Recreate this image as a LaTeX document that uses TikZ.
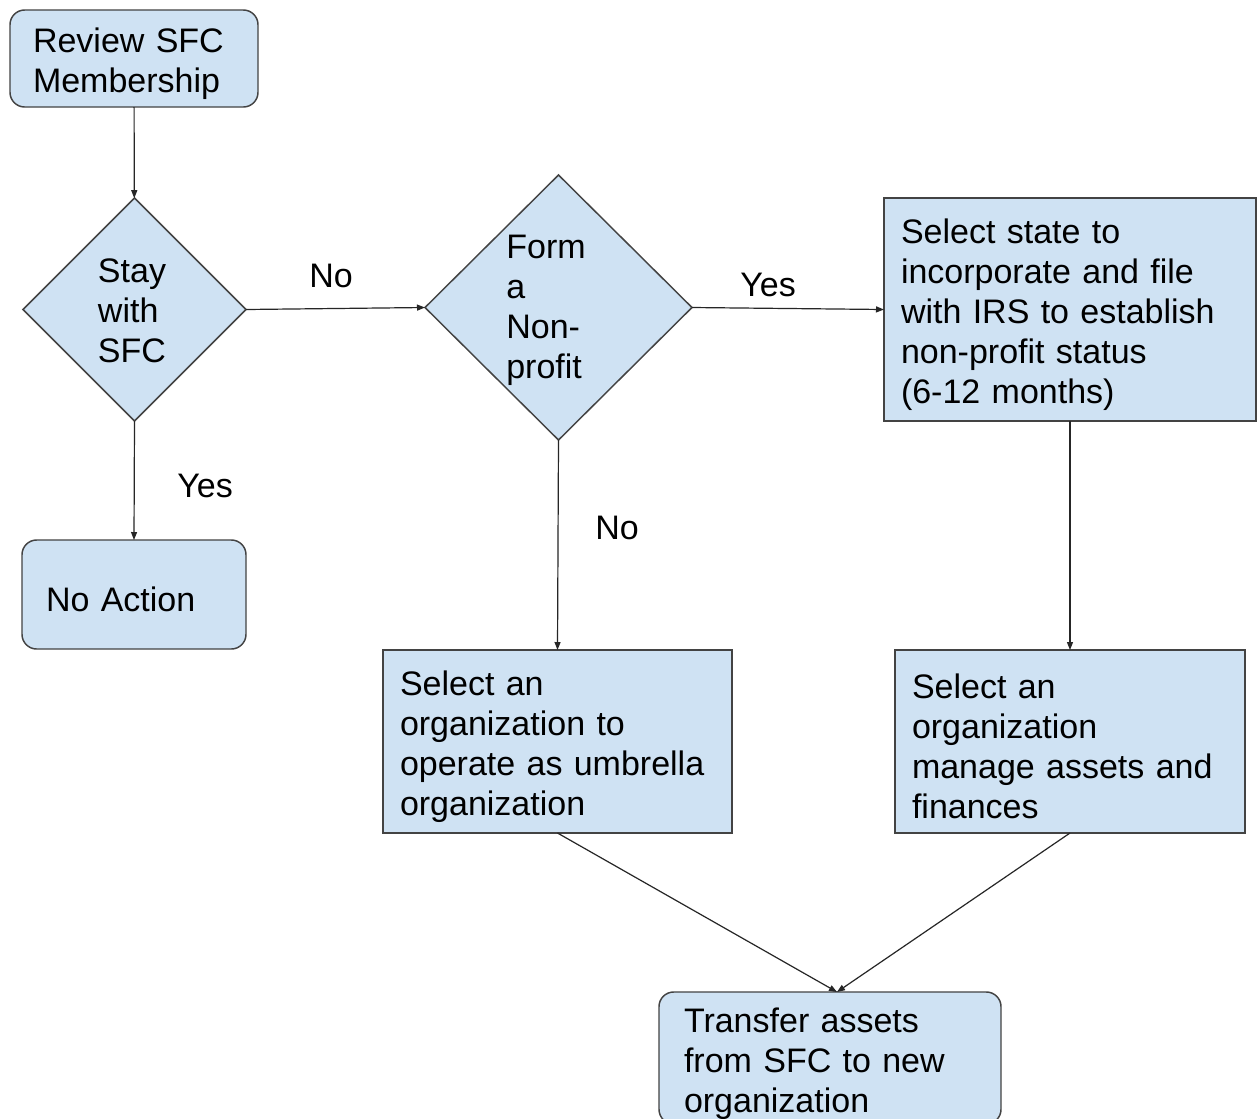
\documentclass[tikz,border=0pt]{standalone}
\usepackage{fontspec}
\setmainfont{Liberation Sans}
\usetikzlibrary{shapes.geometric,arrows.meta}
\definecolor{boxfill}{HTML}{CFE2F3}
\definecolor{boxline}{HTML}{434343}
\newcommand\myfstrut{\rule{0pt}{26.4pt}}
\begin{document}
\begin{tikzpicture}[x=0.75pt,y=-0.75pt,
  every node/.style={font=\fontsize{25.5pt}{30pt}\selectfont, text=black},
  shp/.style={draw=boxline, fill=boxfill, line width=1.1pt, outer sep=0pt},
  rbox/.style={shp, rounded corners=11pt, inner ysep=0pt, align=left, execute at begin node=\myfstrut},
  sbox/.style={shp, inner ysep=0pt, align=left, execute at begin node=\myfstrut},
  dia/.style={shp, diamond, inner sep=0pt},
  lbl/.style={inner sep=0pt},
  arr/.style={draw=black!85, line width=0.9pt, -{Triangle[length=6pt,width=4.5pt]}}
]
\clip (0,0) rectangle (1257,1118);
\fill[white] (0,0) rectangle (1257,1118);

\node[rbox, minimum width={248*0.75pt}, minimum height={97*0.75pt}, text width={(248-46)*0.75pt}, inner xsep={23*0.75pt}] (review) at (134,58.5) {Review SFC\\Membership};

\node[dia, minimum width={223*0.75pt}, minimum height={223*0.75pt}] (d1) at (134.5,309.5) {};
\node[lbl, align=left] (d1t) at (132,311) {Stay\\with\\SFC};

\node[dia, minimum width={267*0.75pt}, minimum height={265*0.75pt}] (d2) at (558.5,307.5) {};
\node[lbl, align=left] (d2t) at (546,310) {Form\\a\\Non-\\profit};

\node[sbox, minimum width={372*0.75pt}, minimum height={223*0.75pt}, text width={(372-34)*0.75pt}, inner xsep={17*0.75pt}] (box3) at (1070,309.5) {Select state to\\incorporate and file\\with IRS to establish\\non-profit status\\(6-12 months)};

\node[rbox, minimum width={224*0.75pt}, minimum height={109*0.75pt}, text width={(224-48)*0.75pt}, inner xsep={24*0.75pt}] (noact) at (134,594.5) {No Action};

\node[sbox, minimum width={349*0.75pt}, minimum height={183*0.75pt}, text width={(349-34)*0.75pt}, inner xsep={17*0.75pt}] (umb) at (557.5,741.5) {Select an\\organization to\\operate as umbrella\\organization};

\node[sbox, minimum width={350*0.75pt}, minimum height={183*0.75pt}, text width={(350-34)*0.75pt}, inner xsep={17*0.75pt}] (assets) at (1070,741.5) {Select an\\organization\\manage assets and\\finances};

\node[rbox, minimum width={342*0.75pt}, minimum height={132*0.75pt}, text width={(342-50)*0.75pt}, inner xsep={25*0.75pt}] (transfer) at (830,1058) {Transfer assets\\from SFC to new\\organization};

\coordinate (tin) at (837,992);

\draw[arr] (review) -- (d1);
\draw[arr] (d1.east) -- (d2.west);
\draw[arr] (d2.east) -- (box3.west);
\draw[arr] (d1.south) -- (noact.north);
\draw[arr] (d2.south) -- (umb.north);
\draw[arr] (box3.south) -- (assets.north);
\draw[arr] (umb.south) -- (tin);
\draw[arr] (assets.south) -- (tin);

\node[lbl] (lno1) at (331,276) {No};
\node[lbl] (lyes1) at (768,285) {Yes};
\node[lbl] (lyes2) at (205,486) {Yes};
\node[lbl] (lno2) at (617,528) {No};
\end{tikzpicture}
\end{document}
